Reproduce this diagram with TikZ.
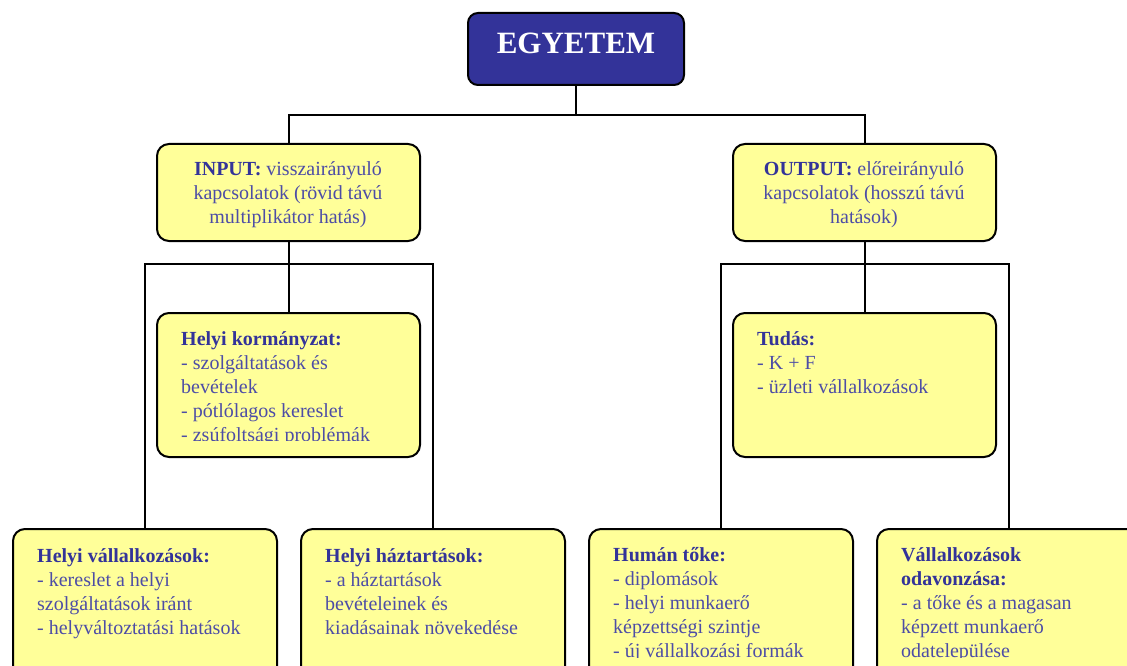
\documentclass[tikz,border=0pt]{standalone}
\usepackage{fontspec}
\setmainfont{Liberation Serif}
\definecolor{navy}{RGB}{51,51,153}
\definecolor{bodyblue}{RGB}{77,77,166}
\definecolor{paleyellow}{RGB}{255,255,153}
\newcommand\hd[1]{\textbf{\color{navy}#1}}
\begin{document}
\begin{tikzpicture}[x=1pt,y=-1pt,
  box/.style={draw=black, line width=2pt, rounded corners=12pt, fill=paleyellow,
              inner sep=0pt, anchor=north west, minimum width=263pt},
  topbox/.style={draw=black, line width=2pt, rounded corners=10pt, fill=navy,
              inner sep=0pt, minimum width=216pt, minimum height=72pt,
              text=white, font=\fontsize{31}{36}\selectfont\bfseries,
              text height=21pt, text depth=12pt},
  link/.style={draw=black, line width=2pt},
  txt/.style={inner sep=0pt, align=left, font=\fontsize{20}{24}\selectfont,
              text=bodyblue, anchor=north west},
  ctxt/.style={txt, align=center, anchor=north}]
\useasboundingbox (0,0) rectangle (1127,666);
\clip (0,0) rectangle (1127,666);

% boxes
\node[topbox] (egy) at (576,49) {EGYETEM};
\node[box, minimum height=97pt] (input) at (156,143) {};
\node[box, minimum height=97pt] (output) at (732,143) {};
\node[box, minimum height=144pt] (hk) at (156,312) {};
\node[box, minimum height=144pt] (tudas) at (732,312) {};
\node[box, minimum width=264pt, minimum height=180pt] (hv) at (12,528) {};
\node[box, minimum width=264pt, minimum height=180pt] (hh) at (300,528) {};
\node[box, minimum width=264pt, minimum height=180pt] (hum) at (588,528) {};
\node[box, minimum width=264pt, minimum height=180pt] (vo) at (876,528) {};

% connectors
\coordinate (topBus) at (576,115);
\coordinate (inBus) at (288,264);
\coordinate (outBus) at (864,264);
\draw[link] (egy.south) -- (topBus) -| (input.north);
\draw[link] (topBus) -| (output.north);
\draw[link] (input.south) -- (hk.north);
\draw[link] (hv.north) |- (inBus) -| (hh.north);
\draw[link] (output.south) -- (tudas.north);
\draw[link] (hum.north) |- (outBus) -| (vo.north);

% texts
\node[ctxt] (inputText) at (288,158.2) {\strut\hd{INPUT:} visszairányuló\\kapcsolatok (rövid távú\\multiplikátor hatás)};
\node[ctxt] (outputText) at (864,158.2) {\strut\hd{OUTPUT:} előreirányuló\\kapcsolatok (hosszú távú\\hatások)};
\begin{scope}
\clip (156,312) rectangle (419,440);
\node[txt] (hkText) at (181,328.2) {\strut\hd{Helyi kormányzat:}\\- szolgáltatások és\\bevételek\\- pótlólagos kereslet\\- zsúfoltsági problémák};
\end{scope}
\node[txt] (tudasText) at (757,328.2) {\strut\hd{Tudás:}\\- K + F\\- üzleti vállalkozások};
\node[txt] (hvText) at (37,545.2) {\strut\hd{Helyi vállalkozások:}\\- kereslet a helyi\\szolgáltatások iránt\\- helyváltoztatási hatások};
\node[txt] (hhText) at (325,545.2) {\strut\hd{Helyi háztartások:}\\- a háztartások\\bevételeinek és\\kiadásainak növekedése};
\begin{scope}
\clip (588,528) rectangle (1127,657);
\node[txt] (humText) at (613,544.2) {\strut\hd{Humán tőke:}\\- diplomások\\- helyi munkaerő\\képzettségi szintje\\- új vállalkozási formák};
\node[txt] (voText) at (901,544.2) {\strut\hd{Vállalkozások}\\\hd{odavonzása:}\\- a tőke és a magasan\\képzett munkaerő\\odatelepülése};
\end{scope}
\end{tikzpicture}
\end{document}
